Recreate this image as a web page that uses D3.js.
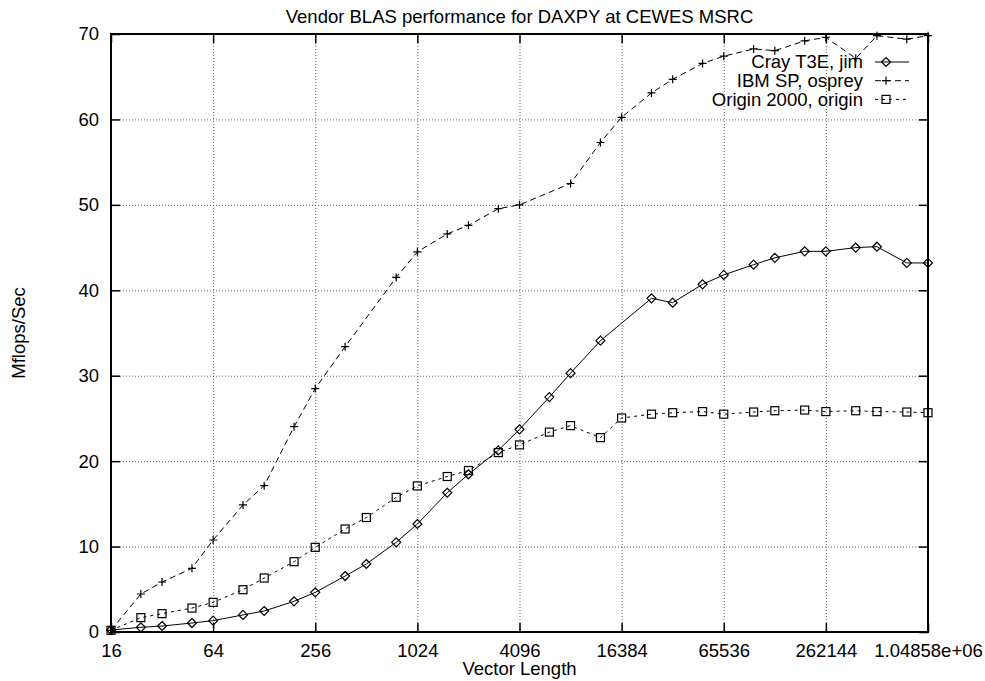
<!DOCTYPE html>
<html>
<head>
<meta charset="utf-8">
<script src="https://cdn.jsdelivr.net/npm/d3@7"></script>
<style>
  body { margin: 0; background: #fff; }
  text { font-family: "Liberation Sans", Arial, Helvetica, sans-serif; font-size: 18.5px; fill: #000; }
  .grid line { stroke: #666; stroke-width: 1; stroke-dasharray: 1,2; }
  .grid path { display: none; }
  .ticks line { stroke: #000; stroke-width: 1.5; }
  .ticks path { display: none; }
</style>
</head>
<body>
<div id="chart"></div>
<script>
// vector lengths (x)
var sizes = [16, 24, 32, 48, 64, 96, 128, 192, 256, 384, 512, 768, 1024, 1536, 2048, 3072,
  4096, 6144, 8192, 12288, 16384, 24576, 32768, 49152, 65536, 98304, 131072, 196608,
  262144, 393216, 524288, 786432, 1048576];

// Mflops/Sec, null where the run has no point
var cray = [0.23, 0.55, 0.7, 1.05, 1.33, 2.0, 2.46, 3.59, 4.64, 6.55, 7.96, 10.5, 12.64, 16.3,
  18.46, 21.26, 23.72, 27.5, 30.3, 34.1, null, 39.06, 38.55, 40.7, 41.8, 43.0, 43.8, 44.56,
  44.56, 45.0, 45.1, 43.2, 43.2];
var ibm = [0.2, 4.45, 5.85, 7.45, 10.77, 14.87, 17.13, 24.03, 28.5, 33.4, null, 41.5, 44.5, 46.6,
  47.6, 49.55, 50.0, null, 52.5, 57.3, 60.25, 63.1, 64.7, 66.56, 67.4, 68.25, 68.05, 69.2,
  69.6, 67.15, 69.8, 69.4, 69.8];
var origin = [0.2, 1.68, 2.15, 2.8, 3.47, 4.95, 6.32, 8.23, 9.91, 12.06, 13.4, 15.76, 17.1, 18.2,
  18.9, 21.0, 21.9, 23.4, 24.16, 22.75, 25.05, 25.5, 25.67, 25.8, 25.5, 25.75, 25.9, 25.98,
  25.8, 25.9, 25.8, 25.75, 25.67];

var seriesNames = ["Cray T3E, jim", "IBM SP, osprey", "Origin 2000, origin"];

// ticks
var xTicks = [16, 64, 256, 1024, 4096, 16384, 65536, 262144, 1048576];
var xTickLabels = ["16", "64", "256", "1024", "4096", "16384", "65536", "262144", "1.04858e+06"];
var yTicks = [0, 10, 20, 30, 40, 50, 60, 70];

var W = 985, H = 681;
var mLeft = 111, mRight = 928, mTop = 34, mBottom = 632;

var svg = d3.select("#chart")
  .append("svg")
  .attr("width", W)
  .attr("height", H);

var x = d3.scaleLog().base(2)
  .domain([16, 1048576])
  .range([mLeft, mRight]);

var y = d3.scaleLinear()
  .domain([0, 70])
  .range([mBottom, mTop]);

// grid
svg.append("g")
  .attr("class", "grid")
  .attr("transform", "translate(0," + mBottom + ")")
  .call(d3.axisBottom(x).tickValues(xTicks).tickSize(-(mBottom - mTop)).tickFormat(""));
svg.append("g")
  .attr("class", "grid")
  .attr("transform", "translate(" + mLeft + ",0)")
  .call(d3.axisLeft(y).tickValues(yTicks).tickSize(-(mRight - mLeft)).tickFormat(""));

// ticks, mirrored on all four sides
svg.append("g")
  .attr("class", "ticks")
  .attr("transform", "translate(0," + mBottom + ")")
  .call(d3.axisBottom(x).tickValues(xTicks)
    .tickFormat(function(d, i) { return xTickLabels[i]; })
    .tickSizeInner(-9).tickSizeOuter(0).tickPadding(12));
svg.append("g")
  .attr("class", "ticks")
  .attr("transform", "translate(0," + mTop + ")")
  .call(d3.axisTop(x).tickValues(xTicks).tickFormat("").tickSizeInner(-9).tickSizeOuter(0));
svg.append("g")
  .attr("class", "ticks")
  .attr("transform", "translate(" + mLeft + ",0)")
  .call(d3.axisLeft(y).tickValues(yTicks).tickSizeInner(-9).tickSizeOuter(0).tickPadding(12));
svg.append("g")
  .attr("class", "ticks")
  .attr("transform", "translate(" + mRight + ",0)")
  .call(d3.axisRight(y).tickValues(yTicks).tickFormat("").tickSizeInner(-9).tickSizeOuter(0));

svg.selectAll(".ticks text")
  .style("font-size", "18.5px")
  .style("font-family", "\"Liberation Sans\", Arial, sans-serif")
  .attr("fill", "#000");

// border
svg.append("rect")
  .attr("x", mLeft)
  .attr("y", mTop)
  .attr("width", mRight - mLeft)
  .attr("height", mBottom - mTop)
  .attr("fill", "none")
  .attr("stroke", "#000")
  .attr("stroke-width", 2);

// titles
svg.append("text")
  .attr("x", (mLeft + mRight) / 2)
  .attr("y", 23)
  .attr("text-anchor", "middle")
  .text("Vendor BLAS performance for DAXPY at CEWES MSRC");
svg.append("text")
  .attr("x", (mLeft + mRight) / 2)
  .attr("y", 675)
  .attr("text-anchor", "middle")
  .text("Vector Length");
svg.append("text")
  .attr("transform", "translate(25," + (mTop + mBottom) / 2 + ") rotate(-90)")
  .attr("text-anchor", "middle")
  .text("Mflops/Sec");

// marker shapes
function marker(g, kind, cx, cy) {
  if (kind === 0) {
    g.append("path")
      .attr("d", "M" + cx + "," + (cy - 4.5) + "L" + (cx + 4.5) + "," + cy +
        "L" + cx + "," + (cy + 4.5) + "L" + (cx - 4.5) + "," + cy + "Z");
  } else if (kind === 1) {
    g.append("path")
      .attr("d", "M" + (cx - 4) + "," + cy + "H" + (cx + 4) + "M" + cx + "," + (cy - 4) + "V" + (cy + 4));
  } else {
    g.append("rect")
      .attr("x", cx - 4).attr("y", cy - 4)
      .attr("width", 8).attr("height", 8);
  }
}

var allSeries = [cray, ibm, origin];
var dashes = [null, "6,4", "3,4"];

var line = d3.line()
  .x(function(d) { return x(d[0]); })
  .y(function(d) { return y(d[1]); });

allSeries.forEach(function(vals, k) {
  var pts = [];
  sizes.forEach(function(s, i) {
    if (vals[i] !== null) pts.push([s, vals[i]]);
  });

  svg.append("path")
    .datum(pts)
    .attr("d", line)
    .attr("fill", "none")
    .attr("stroke", "#000")
    .attr("stroke-width", 1)
    .attr("stroke-dasharray", dashes[k]);

  var mg = svg.append("g")
    .attr("fill", "none")
    .attr("stroke", "#000")
    .attr("stroke-width", 1.2);
  pts.forEach(function(p) { marker(mg, k, x(p[0]), y(p[1])); });

  // legend entry
  var ly = 62 + k * 18.7;
  svg.append("text")
    .attr("x", 863)
    .attr("y", ly)
    .attr("dy", "0.35em")
    .attr("text-anchor", "end")
    .text(seriesNames[k]);
  svg.append("line")
    .attr("x1", 875).attr("x2", 909)
    .attr("y1", ly).attr("y2", ly)
    .attr("stroke", "#000")
    .attr("stroke-width", 1)
    .attr("stroke-dasharray", dashes[k]);
  var lg = svg.append("g")
    .attr("fill", "none")
    .attr("stroke", "#000")
    .attr("stroke-width", 1.2);
  marker(lg, k, 886, ly);
});
</script>
</body>
</html>
